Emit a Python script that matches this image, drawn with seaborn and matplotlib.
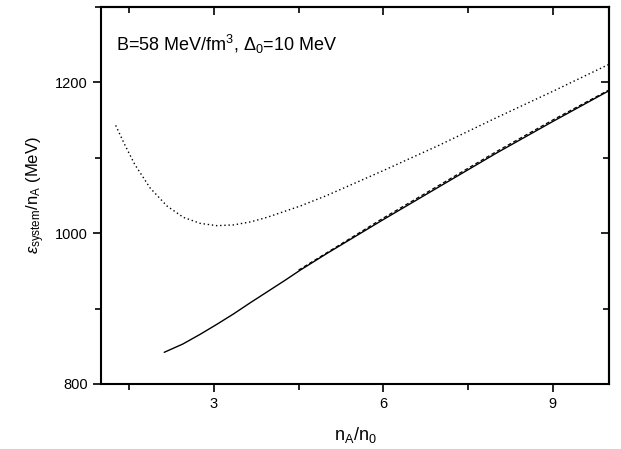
import matplotlib
matplotlib.use('Agg')
import matplotlib.pyplot as plt
import seaborn as sns
import pandas as pd

# curve values
x_dot = [1.26, 1.43, 1.60, 1.87, 2.17, 2.46, 2.76, 3.05, 3.35, 3.65, 3.94, 4.53, 5.0, 6.0, 7.0, 8.0, 9.0, 10.0]
y_dot = [1143, 1116, 1091, 1060, 1036, 1021, 1013, 1010, 1011, 1015, 1021, 1036, 1050, 1083, 1117, 1153, 1188, 1224]

x_solid = [2.12, 2.45, 2.76, 3.05, 3.35, 3.65, 3.94, 4.25, 4.53, 5.0, 6.0, 7.0, 8.0, 9.0, 10.0]
y_solid = [842, 853, 866, 879, 893, 908, 922, 937, 951, 973, 1018, 1062, 1106, 1148, 1189]

x_dash = [4.5, 5.0, 6.0, 7.0, 8.0, 9.0, 10.0]
y_dash = [951, 974, 1020, 1064, 1108, 1150, 1190]

sns.set_style('ticks', {'axes.edgecolor': 'black', 'xtick.color': 'black',
                        'ytick.color': 'black', 'text.color': 'black',
                        'axes.labelcolor': 'black'})
plt.rcParams['font.family'] = ['Liberation Sans', 'DejaVu Sans']
plt.rcParams['mathtext.fontset'] = 'custom'
plt.rcParams['mathtext.rm'] = 'Liberation Sans'
plt.rcParams['mathtext.it'] = 'Liberation Sans:italic'
plt.rcParams['mathtext.sf'] = 'Liberation Sans'

fig = plt.figure(figsize=(6.21, 4.49), dpi=100)
ax = fig.add_axes([0.1626, 0.1448, 0.8181, 0.8396])

df_dot = pd.DataFrame({'x': x_dot, 'y': y_dot})
df_solid = pd.DataFrame({'x': x_solid, 'y': y_solid})
df_dash = pd.DataFrame({'x': x_dash, 'y': y_dash})

sns.lineplot(data=df_dot, x='x', y='y', ax=ax, color='black', lw=1.0,
             linestyle=(0, (1, 2)), sort=False)
sns.lineplot(data=df_solid, x='x', y='y', ax=ax, color='black', lw=1.0, sort=False)
sns.lineplot(data=df_dash, x='x', y='y', ax=ax, color='black', lw=0.9,
             linestyle=(0, (3, 2)), sort=False)

ax.set_xlim(1, 10)
ax.set_ylim(800, 1300)
ax.set_xticks([3, 6, 9])
ax.set_xticks([1.5, 4.5, 7.5], minor=True)
ax.set_yticks([800, 1000, 1200])
ax.set_yticks([900, 1100, 1300], minor=True)
ax.tick_params(which='major', direction='out', length=6, width=1.2, labelsize=10.5)
ax.tick_params(which='minor', direction='out', length=4, width=1.2)

for s in ax.spines.values():
    s.set_linewidth(1.5)
    s.set_visible(True)

# top and right ticks point inwards
top = ax.secondary_xaxis('top')
top.set_xticks([3, 6, 9])
top.set_xticks([1.5, 4.5, 7.5], minor=True)
top.tick_params(which='major', direction='in', length=6, width=1.2, labeltop=False)
top.tick_params(which='minor', direction='in', length=4, width=1.2)
top.spines['top'].set_linewidth(1.5)
right = ax.secondary_yaxis('right')
right.set_yticks([800, 1000, 1200])
right.set_yticks([900, 1100, 1300], minor=True)
right.tick_params(which='major', direction='in', length=6, width=1.2, labelright=False)
right.tick_params(which='minor', direction='in', length=4, width=1.2)
right.spines['right'].set_linewidth(1.5)

ax.set_xlabel(r'n$_{\rm A}$/n$_{\rm 0}$', fontsize=13, labelpad=10)
ax.set_ylabel(r'$\varepsilon_{\rm system}$/n$_{\rm A}$ (MeV)', fontsize=12, labelpad=6)

ax.text(0.03, 0.9, r'B=58 MeV/fm$^{3}$, $\Delta_{\rm 0}$=10 MeV', transform=ax.transAxes,
        fontsize=13, ha='left', va='center')

fig.savefig('out.png', dpi=100)
